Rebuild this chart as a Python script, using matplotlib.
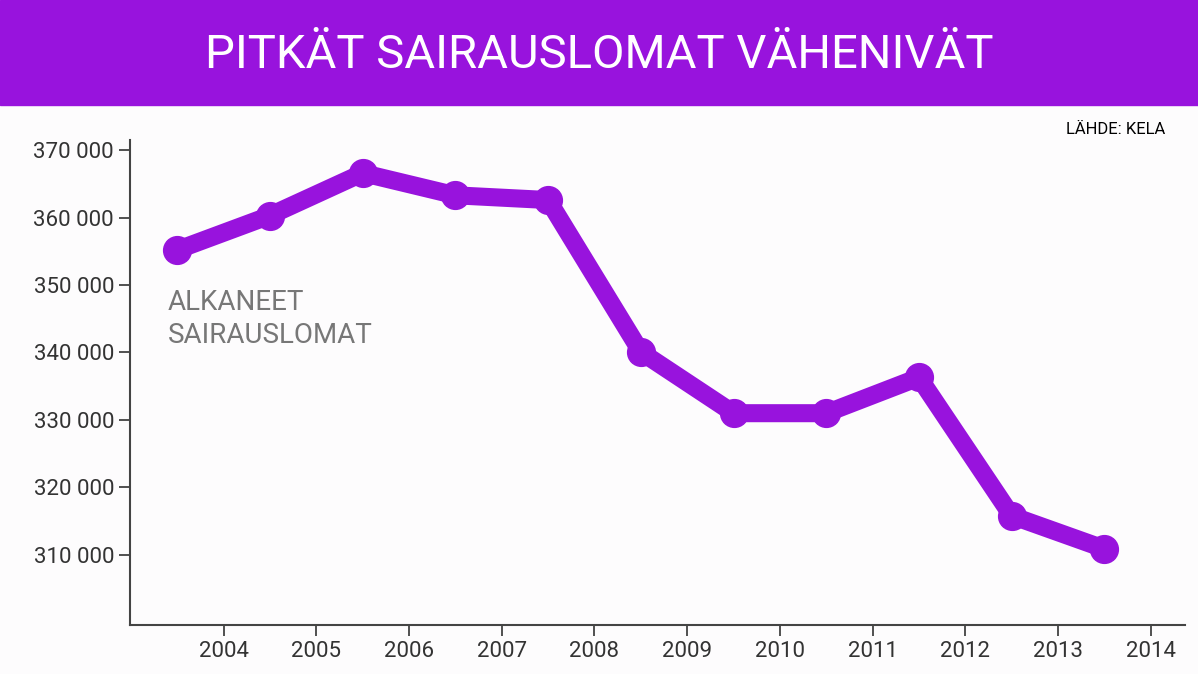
import matplotlib
matplotlib.use("Agg")
import matplotlib.pyplot as plt

YEARS = [2003.5, 2004.5, 2005.5, 2006.5, 2007.5, 2008.5, 2009.5, 2010.5, 2011.5, 2012.5, 2013.5]
VALUES = [355200, 360300, 366600, 363300, 362600, 340100, 331000, 331000, 336300, 315800, 310900]
XTICKS = list(range(2004, 2015))
YTICKS = [310000, 320000, 330000, 340000, 350000, 360000, 370000]

PURPLE = "#9813dd"
TEXT = "#333333"
plt.rcParams["font.family"] = "Roboto"

fig = plt.figure(figsize=(11.98, 6.74), dpi=100)
fig.patch.set_facecolor("#fdfcfd")

# title bar
fig.patches.append(plt.Rectangle((0, 1 - 105 / 674), 1, 105 / 674, transform=fig.transFigure,
                                 color=PURPLE, zorder=0))
fig.text(0.5, 1 - 55 / 674, "PITKÄT SAIRAUSLOMAT VÄHENIVÄT", color="white", fontsize=34,
         ha="center", va="center", fontstretch="condensed")
fig.text(0.973, 1 - 130 / 674, "LÄHDE: KELA", color="black", fontsize=12, ha="right", va="center")

ax = fig.add_axes([130 / 1198, 49 / 674, 1055 / 1198, 485 / 674])
ax.set_facecolor("none")
ax.plot(YEARS, VALUES, color=PURPLE, lw=13, marker="o", ms=20, solid_joinstyle="round",
        solid_capstyle="round")
ax.set_xlim(2002.99, 2014.37)
ax.set_ylim(299600, 371500)
ax.set_xticks(XTICKS)
ax.set_yticks(YTICKS)
ax.set_yticklabels([f"{v // 1000} 000" for v in YTICKS])
ax.tick_params(colors=TEXT, labelsize=16, length=8, width=1.2)
for s in ("top", "right"):
    ax.spines[s].set_visible(False)
for s in ("left", "bottom"):
    ax.spines[s].set_color("#444444")
    ax.spines[s].set_linewidth(1.5)
ax.text(2003.4, 345000, "ALKANEET\nSAIRAUSLOMAT", color="#777777", fontsize=20,
        va="center", ha="left", linespacing=1.3)

fig.savefig("out.png", dpi=100, facecolor=fig.get_facecolor())
